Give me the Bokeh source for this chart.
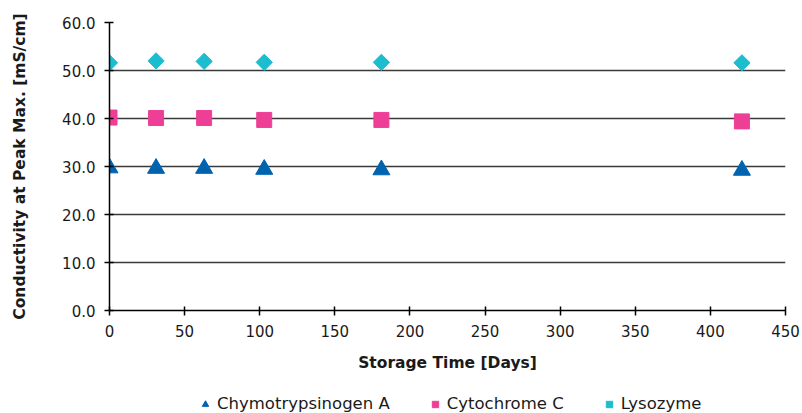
import numpy as np
from bokeh.plotting import figure
from bokeh.layouts import column
from bokeh.models import Legend, LegendItem, FixedTicker, Range1d, CustomJSTickFormatter
from bokeh.embed import file_html
from bokeh.resources import INLINE

days = [0, 31, 63, 103, 181, 421]
chymotrypsinogen = [29.7, 29.6, 29.6, 29.4, 29.3, 29.2]
cytochrome = [40.2, 40.1, 40.1, 39.7, 39.7, 39.4]
lysozyme = [51.6, 52.0, 51.9, 51.7, 51.7, 51.6]
series_names = ["Chymotrypsinogen A", "Cytochrome C", "Lysozyme"]
x_ticks = [0, 50, 100, 150, 200, 250, 300, 350, 400, 450]
y_ticks = [0, 10, 20, 30, 40, 50, 60]

FONT = "DejaVu Sans"
C_TRI, C_SQ, C_DIA = "#0063B0", "#EE3F97", "#1BBDCF"

p = figure(frame_width=676, frame_height=288, output_backend="svg", toolbar_location=None,
           x_range=Range1d(0, 450), y_range=Range1d(0, 60),
           min_border_left=109, min_border_top=22, min_border_right=17, min_border_bottom=84)
p.outline_line_color = None
p.xgrid.grid_line_color = None
p.ygrid.grid_line_color = "#3a3a3a"
p.ygrid.grid_line_width = 1.5
p.ygrid.ticker = FixedTicker(ticks=y_ticks)

p.xaxis.ticker = FixedTicker(ticks=x_ticks)
p.yaxis.ticker = FixedTicker(ticks=y_ticks)
p.yaxis.formatter = CustomJSTickFormatter(code="return tick.toFixed(1);")
for ax in (p.xaxis[0], p.yaxis[0]):
    ax.axis_line_color = "black"
    ax.axis_line_width = 1.5
    ax.major_tick_line_color = "black"
    ax.major_tick_line_width = 1.5
    ax.major_tick_in = 4
    ax.major_tick_out = 5
    ax.minor_tick_line_color = None
    ax.major_label_text_font = FONT
    ax.major_label_text_font_size = "15px"
    ax.major_label_text_color = "#1a1a1a"
    ax.axis_label_text_font = FONT
    ax.axis_label_text_font_size = "15.5px"
    ax.axis_label_text_font_style = "bold"
    ax.axis_label_text_color = "#1a1a1a"
p.xaxis.axis_label = "Storage Time [Days]"
p.yaxis.axis_label = "Conductivity at Peak Max. [mS/cm]"
p.xaxis.major_label_standoff = 9
p.xaxis.axis_label_standoff = 14
p.yaxis.major_label_standoff = 9
p.yaxis.axis_label_standoff = 30

p.scatter(days, chymotrypsinogen, marker="triangle", size=17,
          fill_color=C_TRI, line_color=C_TRI)
p.scatter(days, cytochrome, marker="square", size=15,
          fill_color=C_SQ, line_color=C_SQ)
p.scatter(days, lysozyme, marker="square", size=11.5, angle=np.pi / 4,
          fill_color=C_DIA, line_color=C_DIA)

# legend strip below the chart (renderers hold one off-range point so legend glyphs draw)
lg = figure(frame_width=802, frame_height=19, output_backend="svg", toolbar_location=None,
            x_range=Range1d(0, 1), y_range=Range1d(0, 1),
            min_border_left=0, min_border_right=0, min_border_top=0, min_border_bottom=0)
lg.axis.visible = False
lg.grid.visible = False
lg.outline_line_color = None
l1 = lg.scatter([-10], [-10], marker="triangle", size=16, fill_color=C_TRI, line_color=C_TRI)
l2 = lg.scatter([-10], [-10], marker="square", size=14, fill_color=C_SQ, line_color=C_SQ)
l3 = lg.scatter([-10], [-10], marker="square", size=11.5, angle=np.pi / 4,
                fill_color=C_DIA, line_color=C_DIA)
legend = Legend(items=[LegendItem(label=series_names[0], renderers=[l1]),
                       LegendItem(label=series_names[1], renderers=[l2]),
                       LegendItem(label=series_names[2], renderers=[l3])],
                orientation="horizontal", location=(197, 0),
                label_text_font=FONT, label_text_font_size="16.5px",
                label_text_color="#1a1a1a",
                border_line_color=None, background_fill_alpha=0,
                spacing=37, label_standoff=4, glyph_width=16, glyph_height=16,
                padding=0, margin=0)
lg.add_layout(legend, "center")

open("out.html", "w").write(file_html(column(p, lg, spacing=0), INLINE))
